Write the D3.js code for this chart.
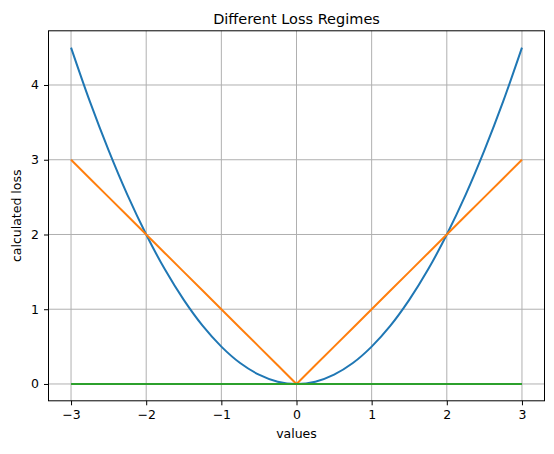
<!DOCTYPE html>
<html><head><meta charset="utf-8">
<script src="https://cdn.jsdelivr.net/npm/d3@7"></script>
<style>body{margin:0;background:#fff}text{font-family:"DejaVu Sans",sans-serif}</style>
</head><body><svg id="c" width="554" height="454"></svg>
<script>
const xValues=[-3,-2.75,-2.5,-2.25,-2,-1.75,-1.5,-1.25,-1,-0.75,-0.5,-0.25,0,0.25,0.5,0.75,1,1.25,1.5,1.75,2,2.25,2.5,2.75,3];
const squaredLoss=[4.5,3.78,3.125,2.53,2,1.53,1.125,0.78,0.5,0.28,0.125,0.03,0,0.03,0.125,0.28,0.5,0.78,1.125,1.53,2,2.53,3.125,3.78,4.5];
const absLoss=[3,2.75,2.5,2.25,2,1.75,1.5,1.25,1,0.75,0.5,0.25,0,0.25,0.5,0.75,1,1.25,1.5,1.75,2,2.25,2.5,2.75,3];
const zeroLoss=[0,0,0,0,0,0,0,0,0,0,0,0,0,0,0,0,0,0,0,0,0,0,0,0,0];
const xTicks=[-3,-2,-1,0,1,2,3];
const yTicks=[0,1,2,3,4];
const svg=d3.select("#c");
const L=48.5,R=544.5,T=30.8,B=400.8;
const x=d3.scaleLinear().domain([-3.3,3.3]).range([L,R]);
const y=d3.scaleLinear().domain([-0.225,4.725]).range([B,T]);
const g=svg.append("g");
xTicks.forEach(t=>g.append("line").attr("x1",x(t)).attr("x2",x(t)).attr("y1",T).attr("y2",B).attr("stroke","#b0b0b0").attr("stroke-width",1));
yTicks.forEach(t=>g.append("line").attr("x1",L).attr("x2",R).attr("y1",y(t)).attr("y2",y(t)).attr("stroke","#b0b0b0").attr("stroke-width",1));
const fmt=d=>d<0?"\u2212"+(-d):""+d;
const xa=svg.append("g").attr("transform",`translate(0,${B})`).call(d3.axisBottom(x).tickValues(xTicks).tickFormat(fmt).tickSize(4.5).tickPadding(5));
const ya=svg.append("g").attr("transform",`translate(${L},0)`).call(d3.axisLeft(y).tickValues(yTicks).tickFormat(fmt).tickSize(4.5).tickPadding(5));
[xa,ya].forEach(a=>{a.select(".domain").remove();a.selectAll("text").attr("font-size",12.5).attr("fill","#000");a.selectAll("line").attr("stroke","#000").attr("stroke-width",1);});
const line=d3.line().x((d,i)=>x(xValues[i])).y(d=>y(d));
const series=[[squaredLoss,"#1f77b4",d3.curveCatmullRom],[absLoss,"#ff7f0e",d3.curveLinear],[zeroLoss,"#2ca02c",d3.curveLinear]];
series.forEach(([v,c,cu])=>svg.append("path").attr("d",line.curve(cu)(v)).attr("fill","none").attr("stroke",c).attr("stroke-width",2));
svg.append("rect").attr("x",L).attr("y",T).attr("width",R-L).attr("height",B-T).attr("fill","none").attr("stroke","#000").attr("stroke-width",1);
svg.append("text").attr("x",(L+R)/2).attr("y",T-7).attr("text-anchor","middle").attr("font-size",14.5).text("Different Loss Regimes");
svg.append("text").attr("x",(L+R)/2).attr("y",438).attr("text-anchor","middle").attr("font-size",12.5).text("values");
svg.append("text").attr("transform",`translate(21,${(T+B)/2}) rotate(-90)`).attr("text-anchor","middle").attr("font-size",12.5).text("calculated loss");
</script></body></html>
